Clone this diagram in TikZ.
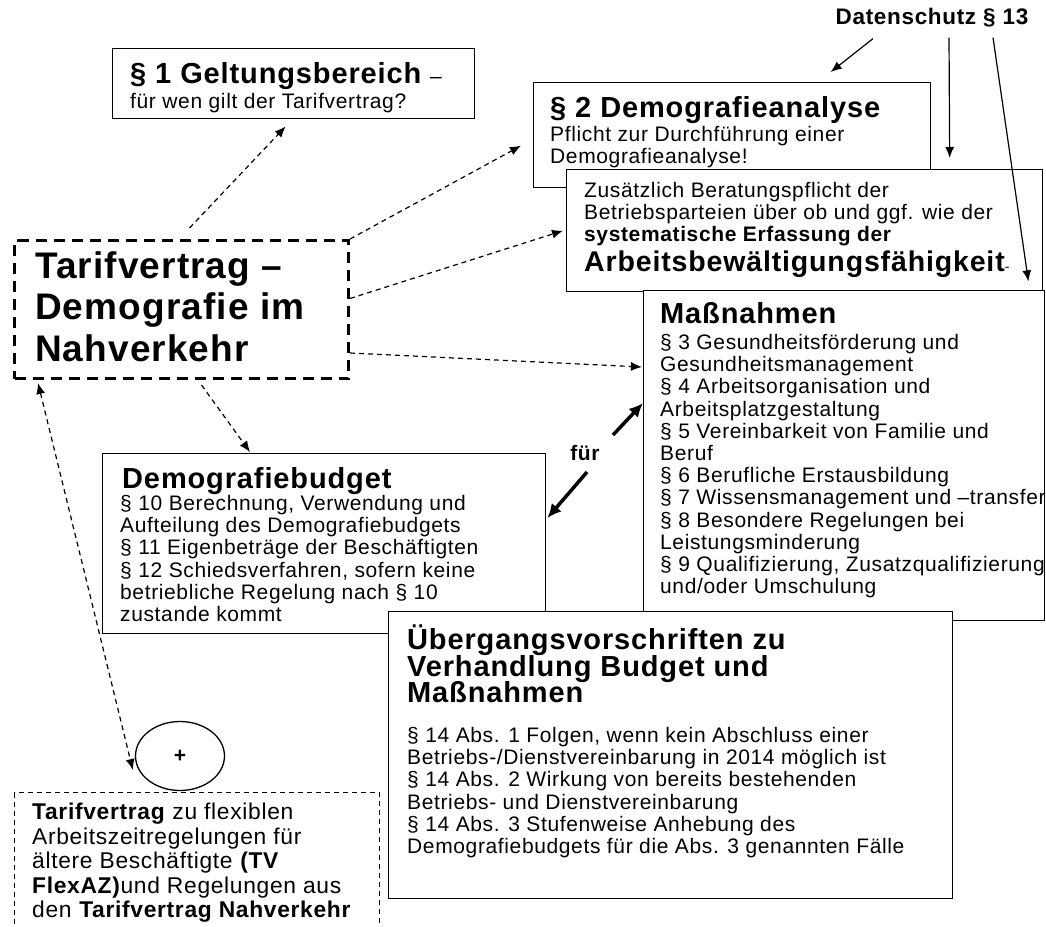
\documentclass[tikz,border=0pt]{standalone}
\usepackage{fontspec}
\setmainfont{Liberation Sans}[LetterSpace=3]
\usetikzlibrary{arrows.meta,shapes.geometric}
\newcommand\tightls{\lineskiplimit -20pt\relax}
\begin{document}
\begin{tikzpicture}[x=1pt,y=-1pt,
  box/.style={draw=black, line width=1.4pt, fill=white, inner sep=0pt, anchor=north west},
  txt/.style={anchor=north west, inner sep=0pt, align=left},
  body/.style={txt, font={\fontsize{21}{22.2}\selectfont\tightls}},
  ttl/.style={txt, font={\bfseries\fontsize{29}{27}\selectfont\tightls}},
  conn/.style={line width=1.2pt, dash pattern=on 5pt off 4pt, -{Latex[length=11pt,width=9pt]}},
  dsarrow/.style={line width=1.2pt, -{Latex[length=11pt,width=9pt]}},
  fuerarrow/.style={line width=3.5pt, -{Latex[length=14pt,width=13pt]}}
]
\path[use as bounding box] (0,0) rectangle (1046,926);
\clip (0,0) rectangle (1046,926);
% boxes
\node[box, minimum width=362pt, minimum height=70pt] (g1) at (112,48) {};
\node[box, minimum width=397pt, minimum height=105pt] (g2) at (533,82) {};
\node[box, minimum width=476pt, minimum height=122pt] (zus) at (566,169) {};
\node[box, minimum width=401pt, minimum height=330pt] (mass) at (643,290) {};
\node[box, minimum width=443pt, minimum height=180pt] (budget) at (102,453) {};
\node[box, minimum width=564pt, minimum height=287pt] (uber) at (388,611) {};
\node[box, line width=3pt, dash pattern=on 11pt off 7pt, minimum width=334pt, minimum height=138pt] (main) at (13,239) {};
\node[box, line width=1.2pt, dash pattern=on 5pt off 4pt, minimum width=365pt, minimum height=170pt] (flex) at (14,792) {};
\node[ellipse, draw=black, line width=1.3pt, fill=white, minimum width=89pt, minimum height=69pt, inner sep=0pt] (plus) at (180,756) {};
% texts
\node[ttl] (g1t) at (130,62) {§ 1 Geltungsbereich {\mdseries\fontsize{21}{22}\selectfont –}};
\node[body] (g1b) at (130,93) {für wen gilt der Tarifvertrag?};
\node[ttl] (g2t) at (550,96) {§ 2 Demografieanalyse};
\node[body] (g2b) at (550,126) {Pflicht zur Durchführung einer\\Demografieanalyse!};
\node[body] (zust) at (584,182) {Zusätzlich Beratungspflicht der\\Betriebsparteien über ob und ggf. wie der\\\textbf{systematische Erfassung der}};
\node[ttl, font={\bfseries\fontsize{28.5}{27}\selectfont}] (zusb) at (584,251) {Arbeitsbewältigungsfähigkeit{\mdseries\fontsize{14}{14}\selectfont -}};
\node[inner sep=0pt, font={\bfseries\fontsize{22.5}{24}\selectfont}] (ds) at (932,18) {Datenschutz § 13};
\node[txt, font={\bfseries\fontsize{37}{41.5}\selectfont\tightls}] (maint) at (35,251) {Tarifvertrag –\\Demografie im\\Nahverkehr};
\node[ttl] (masst) at (660,302) {Maßnahmen};
\node[body] (massb) at (660,334) {§ 3 Gesundheitsförderung und\\Gesundheitsmanagement\\§ 4 Arbeitsorganisation und\\Arbeitsplatzgestaltung\\§ 5 Vereinbarkeit von Familie und\\Beruf\\§ 6 Berufliche Erstausbildung\\§ 7 Wissensmanagement und –transfer\\§ 8 Besondere Regelungen bei\\Leistungsminderung\\§ 9 Qualifizierung, Zusatzqualifizierung\\und/oder Umschulung};
\node[ttl] (budt) at (122,467) {Demografiebudget};
\node[body] (budb) at (120,495) {§ 10 Berechnung, Verwendung und\\Aufteilung des Demografiebudgets\\§ 11 Eigenbeträge der Beschäftigten\\§ 12 Schiedsverfahren, sofern keine\\betriebliche Regelung nach § 10\\zustande kommt};
\node[ttl, font={\bfseries\fontsize{29}{26.5}\selectfont\tightls}] (ubt) at (407,625) {Übergangsvorschriften zu\\Verhandlung Budget und\\Maßnahmen};
\node[body] (ubb) at (407,727) {§ 14 Abs. 1 Folgen, wenn kein Abschluss einer\\Betriebs-/Dienstvereinbarung in 2014 möglich ist\\§ 14 Abs. 2 Wirkung von bereits bestehenden\\Betriebs- und Dienstvereinbarung\\§ 14 Abs. 3 Stufenweise Anhebung des\\Demografiebudgets für die Abs. 3 genannten Fälle};
\node[txt, font={\fontsize{22.8}{24.5}\selectfont\tightls}] (flext) at (32,803) {\textbf{Tarifvertrag} zu flexiblen\\Arbeitszeitregelungen für\\ältere Beschäftigte \textbf{(TV}\\\textbf{FlexAZ)}und Regelungen aus\\den \textbf{Tarifvertrag Nahverkehr}};
\node[inner sep=0pt, font={\bfseries\fontsize{21}{22}\selectfont}] (plust) at (plus) {+};
\node[inner sep=0pt, font={\bfseries\fontsize{21}{22}\selectfont}] (fuer) at (585,453) {für};
% connectors
\draw[conn] ([shift={(8,-11)}]main.north) -- ([shift={(-8,7)}]g1.south);
\draw[conn] (main.north east) -- ([shift={(-12,10.5)}]g2.west);
\draw[conn] ([shift={(0,-11)}]main.east) -- ([shift={(-3,0)}]zus.west);
\draw[conn] ([shift={(0,-27)}]main.south east) -- ([shift={(-1,77)}]mass.north west);
\draw[conn] ([shift={(20,5)}]main.south) -- ([shift={(148,-1)}]budget.north west);
\draw[conn, {Latex[length=11pt,width=9pt]}-{Latex[length=11pt,width=9pt]}] ([shift={(25,3)}]main.south west) -- ([shift={(-2,14)}]plus.west);
\draw[dsarrow] ([shift={(-59,11)}]ds.south) -- ([shift={(98.5,-10)}]g2.north);
\draw[dsarrow] ([shift={(17,10)}]ds.south) -- ([shift={(145,-11)}]zus.north);
\draw[dsarrow] ([shift={(61,10)}]ds.south) -- ([shift={(-15,-11)}]zus.south east);
\draw[fuerarrow] ([shift={(2,19)}]fuer.center) -- ([shift={(1,65)}]budget.north east);
\draw[fuerarrow] ([shift={(28,-18)}]fuer.center) -- ([shift={(0,113)}]mass.north west);
\end{tikzpicture}
\end{document}
